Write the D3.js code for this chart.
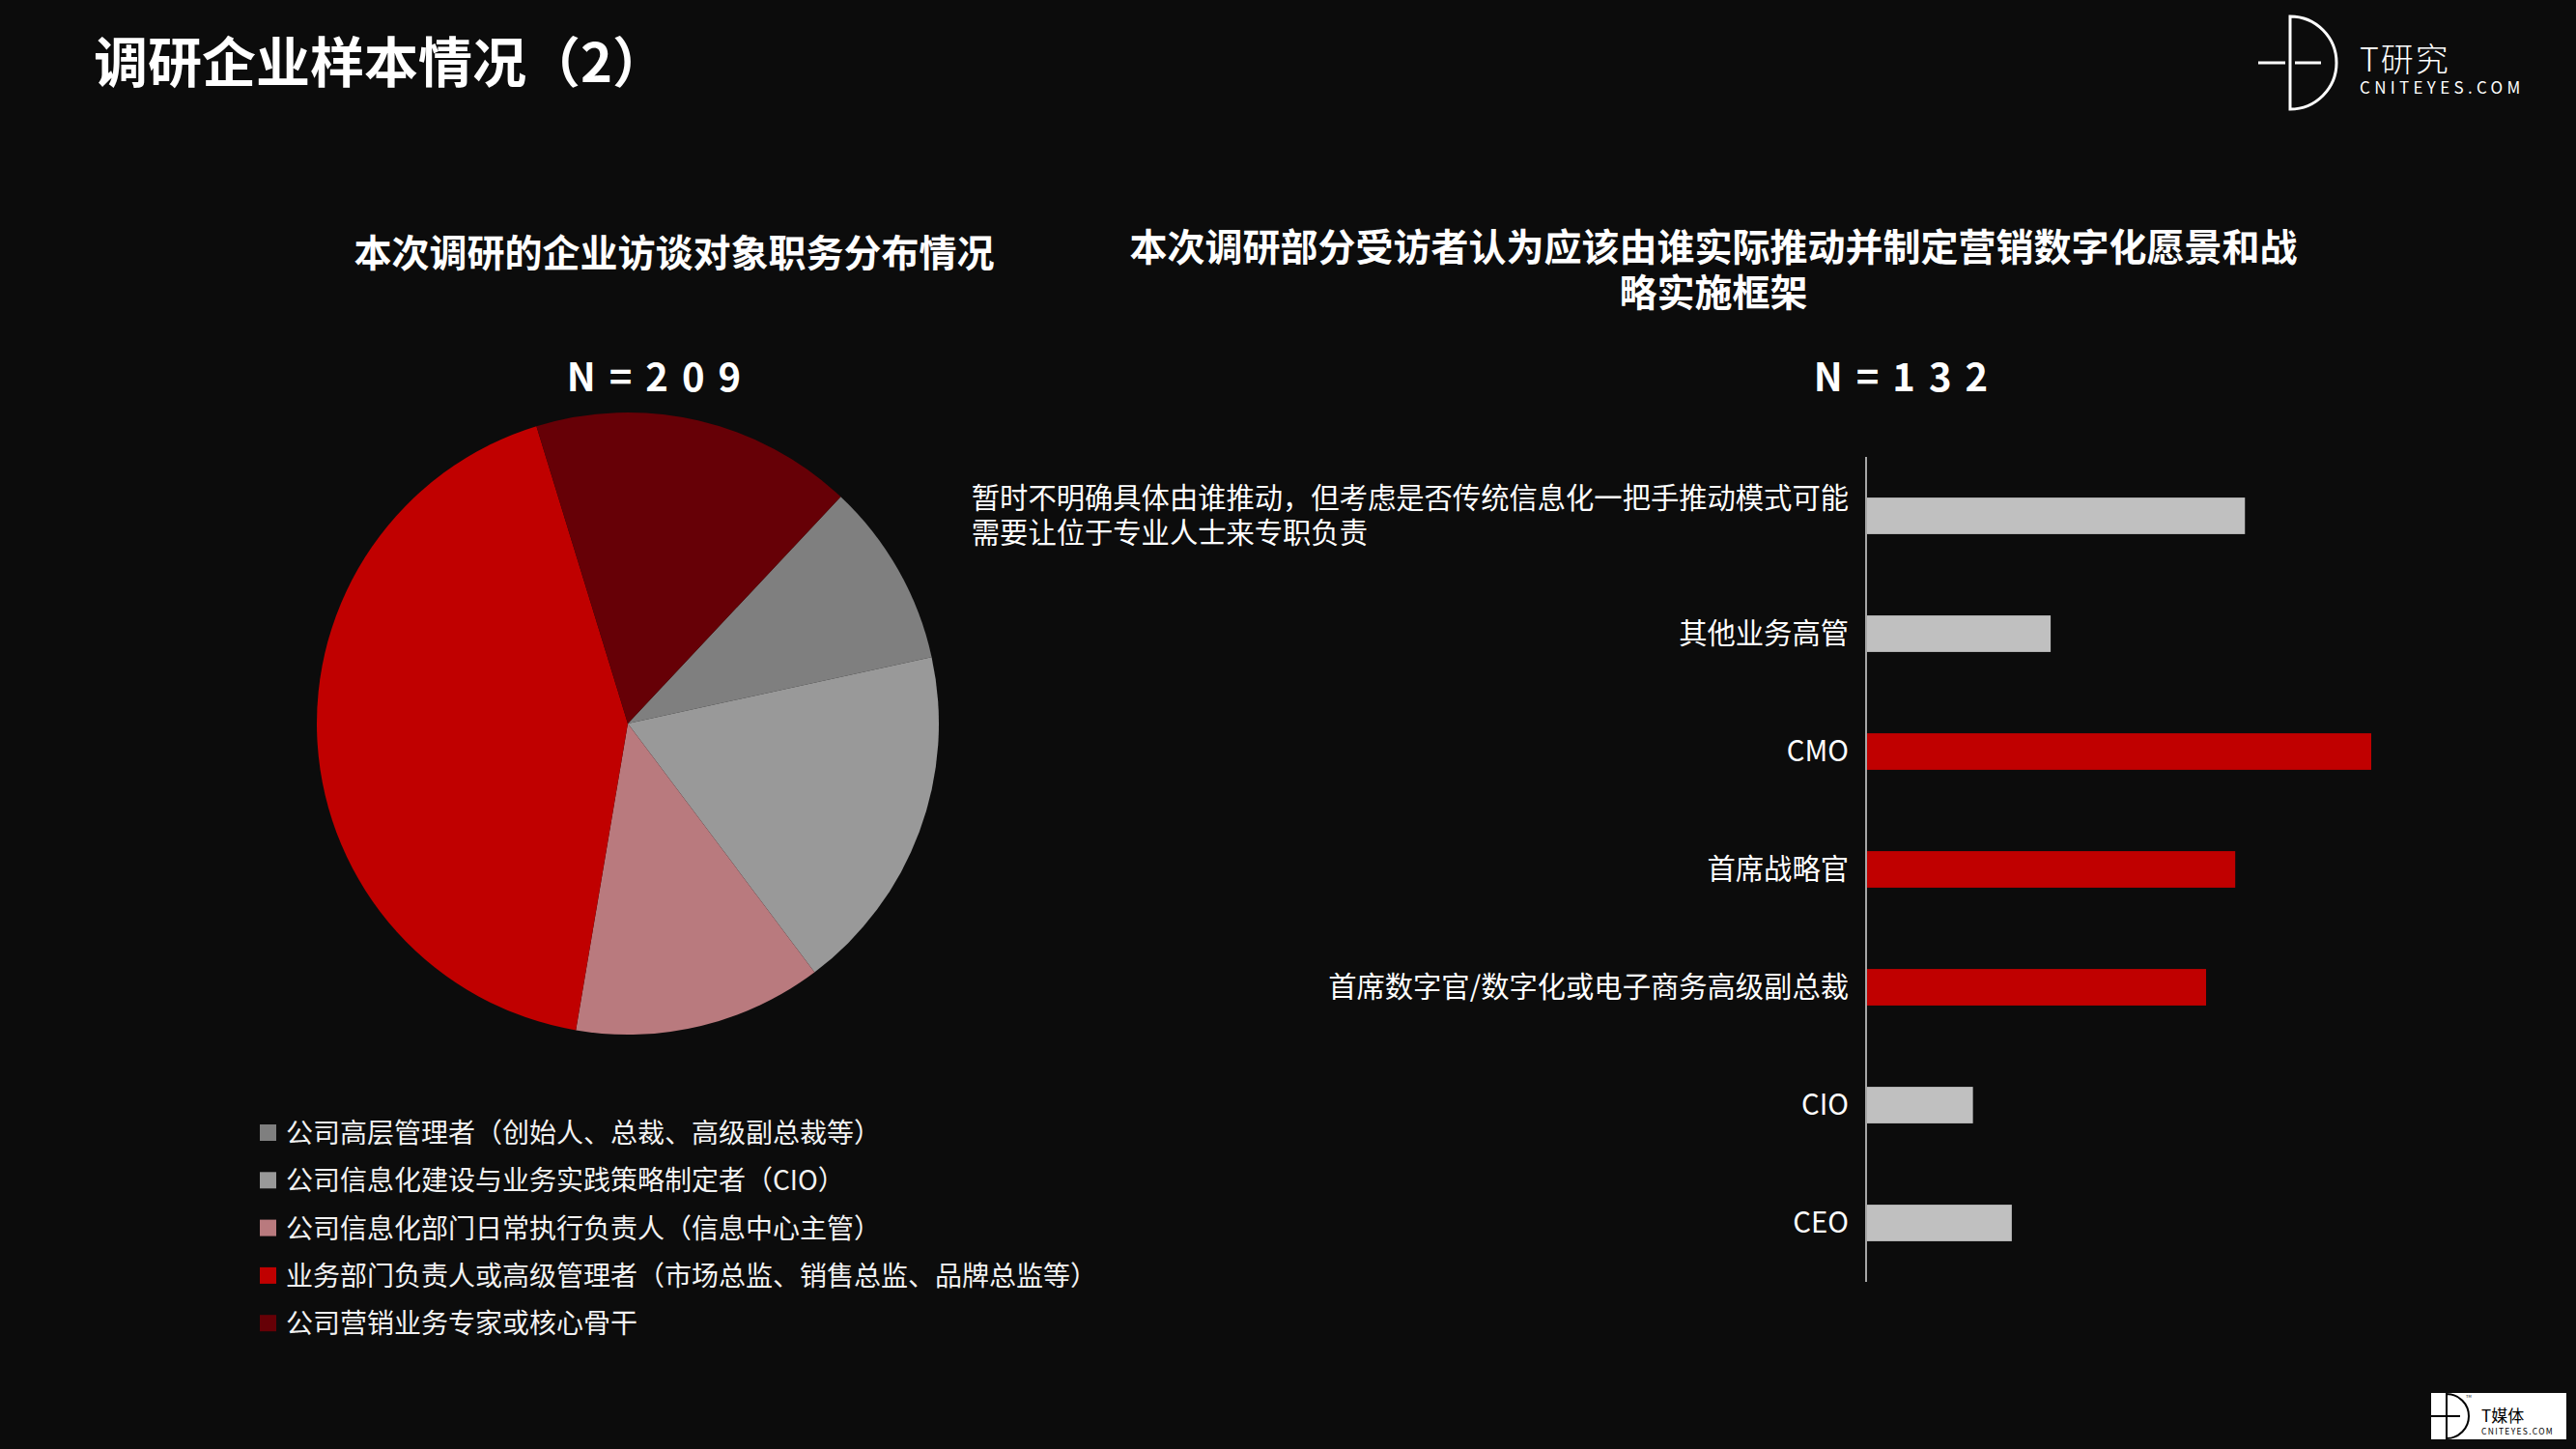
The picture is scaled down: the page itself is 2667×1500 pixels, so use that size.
<!DOCTYPE html>
<html>
<head>
<meta charset="utf-8">
<script src="https://cdn.jsdelivr.net/npm/d3@7"></script>
<style>
  html, body { margin: 0; padding: 0; background: #0c0c0c; }
  svg { display: block; }
  text { font-family: "Noto Sans CJK SC", "Noto Sans", sans-serif; }
</style>
</head>
<body>
<div id="chart"></div>
<script>
// Pie: 职务分布 (N=209)
const roleNames = [
    "公司高层管理者（创始人、总裁、高级副总裁等）",
    "公司信息化建设与业务实践策略制定者（CIO）",
    "公司信息化部门日常执行负责人（信息中心主管）",
    "业务部门负责人或高级管理者（市场总监、销售总监、品牌总监等）",
    "公司营销业务专家或核心骨干"
];
const roleCounts = [20, 38, 27, 89, 35];
const roleColors = ["#7f7f7f", "#999999", "#b97a7e", "#c00000", "#660006"];

// Bars: 谁来推动 (N=132)
const driverNames = [
    "暂时不明确具体由谁推动，但考虑是否传统信息化一把手推动模式可能\n需要让位于专业人士来专职负责",
    "其他业务高管",
    "CMO",
    "首席战略官",
    "首席数字官/数字化或电子商务高级副总裁",
    "CIO",
    "CEO"
];
const driverCounts = [39, 19, 52, 38, 35, 11, 15];
const driverHighlight = [false, false, true, true, true, false, false];

const width = 2667;
const height = 1500;

const svg = d3.select("#chart")
    .append("svg")
    .attr("width", width)
    .attr("height", height);

svg.append("rect")
    .attr("width", width)
    .attr("height", height)
    .attr("fill", "#0c0c0c");

// Page title
svg.append("text")
    .attr("x", 97)
    .attr("y", 85)
    .attr("fill", "#ffffff")
    .style("font-size", "56px")
    .style("font-weight", "bold")
    .text("调研企业样本情况（2）");

// Top-right logo
const logo = svg.append("g");
logo.append("path")
    .attr("d", "M2371,17 A48,48 0 0 1 2371,113 Z")
    .attr("fill", "none")
    .attr("stroke", "#ffffff")
    .attr("stroke-width", 3);
logo.append("line")
    .attr("x1", 2338).attr("x2", 2366)
    .attr("y1", 65).attr("y2", 65)
    .attr("stroke", "#ffffff").attr("stroke-width", 3);
logo.append("line")
    .attr("x1", 2376).attr("x2", 2403)
    .attr("y1", 65).attr("y2", 65)
    .attr("stroke", "#ffffff").attr("stroke-width", 3);
const logoText = logo.append("text")
    .attr("fill", "#ffffff");
logoText.append("tspan")
    .attr("x", 2443).attr("y", 74)
    .style("font-size", "34px")
    .style("font-weight", "300")
    .style("letter-spacing", "2px")
    .text("T研究");
logoText.append("tspan")
    .attr("x", 2443).attr("y", 97)
    .style("font-size", "17px")
    .style("letter-spacing", "4.3px")
    .text("CNITEYES.COM");

// ---------- Left: pie ----------
const cx = 650, cy = 749, radius = 322;

svg.append("text")
    .attr("x", 698).attr("y", 276)
    .attr("text-anchor", "middle")
    .attr("fill", "#ffffff")
    .style("font-size", "39px")
    .style("font-weight", "bold")
    .text("本次调研的企业访谈对象职务分布情况");

svg.append("text")
    .attr("x", 684).attr("y", 405)
    .attr("text-anchor", "middle")
    .attr("fill", "#ffffff")
    .style("font-size", "40px")
    .style("font-weight", "bold")
    .style("letter-spacing", "14px")
    .text("N=209");

const startAngle = 43.2 * Math.PI / 180;
const pie = d3.pie()
    .sort(null)
    .startAngle(startAngle)
    .endAngle(startAngle + 2 * Math.PI);
const arc = d3.arc().innerRadius(0).outerRadius(radius);

svg.append("g")
    .attr("transform", `translate(${cx},${cy})`)
    .selectAll("path")
    .data(pie(roleCounts))
    .join("path")
    .attr("d", arc)
    .attr("fill", (d, i) => roleColors[i]);

// Legend
const legend = svg.append("g")
    .attr("transform", "translate(269,1173)");
roleNames.forEach((name, i) => {
    const row = legend.append("g")
        .attr("transform", `translate(0,${i * 49.3})`);
    row.append("rect")
        .attr("x", 0).attr("y", -9)
        .attr("width", 17).attr("height", 17)
        .attr("fill", roleColors[i]);
    row.append("text")
        .attr("x", 27).attr("y", 10)
        .attr("fill", "#f2f2f2")
        .style("font-size", "28px")
        .text(name);
});

// ---------- Right: horizontal bars ----------
const rightTitle = svg.append("text")
    .attr("text-anchor", "middle")
    .attr("fill", "#ffffff")
    .style("font-size", "39px")
    .style("font-weight", "bold");
rightTitle.append("tspan")
    .attr("x", 1774).attr("y", 270)
    .text("本次调研部分受访者认为应该由谁实际推动并制定营销数字化愿景和战");
rightTitle.append("tspan")
    .attr("x", 1774).attr("y", 317)
    .text("略实施框架");

svg.append("text")
    .attr("x", 1975).attr("y", 405)
    .attr("text-anchor", "middle")
    .attr("fill", "#ffffff")
    .style("font-size", "40px")
    .style("font-weight", "bold")
    .style("letter-spacing", "14px")
    .text("N=132");

const axisX = 1932;
const x = d3.scaleLinear()
    .domain([0, 52])
    .range([axisX, axisX + 523]);
const y = d3.scaleBand()
    .domain(driverNames)
    .range([473, 1327])
    .paddingInner(0.69)
    .paddingOuter(0.345);

svg.append("g")
    .selectAll("rect")
    .data(driverNames)
    .join("rect")
    .attr("x", x(0) + 1)
    .attr("y", d => y(d))
    .attr("width", (d, i) => x(driverCounts[i]) - x(0) - 1)
    .attr("height", y.bandwidth())
    .attr("fill", (d, i) => driverHighlight[i] ? "#c00000" : "#c0c0c0");

svg.append("line")
    .attr("x1", axisX).attr("x2", axisX)
    .attr("y1", 473).attr("y2", 1327)
    .attr("stroke", "#a6a6a6")
    .attr("stroke-width", 2);

// Category labels (multi-line label: first line right-aligned, rest flush with its start)
const labels = svg.append("g");
driverNames.forEach(name => {
    const lines = name.split("\n");
    const mid = y(name) + y.bandwidth() / 2;
    const lineH = 36;
    const top = mid - (lines.length - 1) * lineH / 2;
    const t = labels.append("text")
        .attr("fill", "#ffffff")
        .style("font-size", "29.3px");
    const first = t.append("tspan")
        .attr("x", 1914)
        .attr("y", top + 10)
        .attr("text-anchor", "end")
        .text(lines[0]);
    if (lines.length > 1) {
        const left = 1914 - first.node().getComputedTextLength();
        lines.slice(1).forEach((ln, k) => {
            t.append("tspan")
                .attr("x", left)
                .attr("y", top + 10 + (k + 1) * lineH)
                .attr("text-anchor", "start")
                .text(ln);
        });
    }
});

// Bottom-right badge
const badge = svg.append("g");
badge.append("rect")
    .attr("x", 2517).attr("y", 1442)
    .attr("width", 140).attr("height", 48)
    .attr("fill", "#ffffff");
badge.append("path")
    .attr("d", "M2533,1443 A22,22 0 0 1 2533,1489 Z")
    .attr("fill", "none")
    .attr("stroke", "#000000")
    .attr("stroke-width", 2);
badge.append("line")
    .attr("x1", 2517).attr("x2", 2547)
    .attr("y1", 1466).attr("y2", 1466)
    .attr("stroke", "#000000").attr("stroke-width", 2);
const badgeText = badge.append("text")
    .attr("fill", "#000000");
badgeText.append("tspan")
    .attr("x", 2569).attr("y", 1472)
    .style("font-size", "17px")
    .text("T媒体");
badgeText.append("tspan")
    .attr("x", 2569).attr("y", 1485)
    .style("font-size", "8.5px")
    .style("letter-spacing", "1.3px")
    .text("CNITEYES.COM");
badge.append("text")
    .attr("x", 2553).attr("y", 1447)
    .attr("fill", "#000000")
    .style("font-size", "4px")
    .text("TM");
</script>
</body>
</html>
